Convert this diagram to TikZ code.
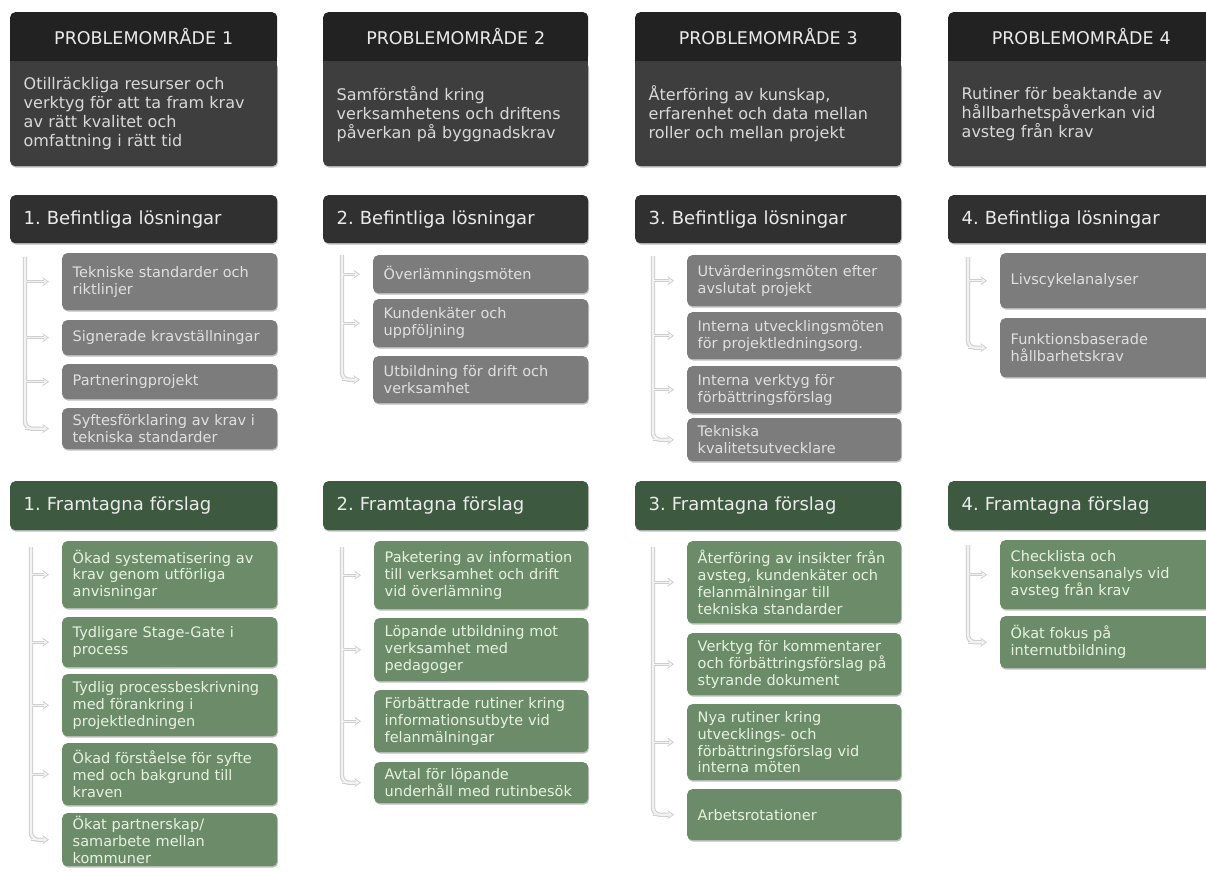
\documentclass[tikz,border=0pt]{standalone}
\usepackage{fontspec}
\setmainfont{DejaVu Sans}
\usetikzlibrary{arrows.meta,shadows}
\frenchspacing

\definecolor{headdark}{HTML}{222222}
\definecolor{bodydark}{HTML}{3E3E3E}
\definecolor{befhead}{HTML}{303030}
\definecolor{greyitem}{HTML}{7C7C7C}
\definecolor{framhead}{HTML}{3D5940}
\definecolor{greenitem}{HTML}{6C8C69}
\definecolor{greentext}{HTML}{E6F2E0}
\definecolor{connedge}{HTML}{CFCFCF}
\definecolor{connfill}{HTML}{F2F2F2}

\tikzset{
  softshadow/.style={drop shadow={shadow xshift=0.8pt,shadow yshift=-1.4pt,opacity=0.25,fill=black}},
  box/.style={anchor=north west, rounded corners=5pt, inner ysep=2pt, align=left,
    font=\fontsize{14.5}{16.8}\selectfont},
  probhead/.style={box, fill=headdark, text=white!92!black, align=center,
    font=\fontsize{17.5}{20}\selectfont},
  probbody/.style={box, softshadow, fill=bodydark, text=white!85!black,
    font=\fontsize{16}{19}\selectfont},
  befhd/.style={box, softshadow, fill=befhead, text=white!92!black,
    font=\fontsize{18}{21}\selectfont},
  framhd/.style={box, softshadow, fill=framhead, text=white!92!black,
    font=\fontsize{18}{21}\selectfont},
  befitem/.style={box, softshadow, fill=greyitem, text=white!88!black},
  framitem/.style={box, softshadow, fill=greenitem, text=greentext},
  % connectors: a pale line with a darker rim, drawn in two passes
  trunkrim/.style={draw=connedge, line width=4.4pt, rounded corners=7pt, shorten >=18pt},
  trunkcore/.style={draw=connfill, line width=2.2pt, rounded corners=7pt, shorten >=18pt},
  tiprim/.style={draw=connedge, line width=2.8pt, -{Stealth[length=6.5pt,width=9pt]}, shorten >=13pt},
  tipcore/.style={draw=connfill, line width=1.2pt, -{Stealth[length=4pt,width=5.5pt]}, shorten >=14.6pt},
}

% \cell{style}{inner xsep}{x1}{y1}{x2}{y2}{name}{text}
\newcommand\cell[8]{%
  \pgfmathsetmacro\cellW{#5-#3}%
  \pgfmathsetmacro\cellH{#6-#4}%
  \pgfmathsetmacro\cellT{#5-#3-2*#2-1}%
  \node[#1, inner xsep=#2pt, minimum width=\cellW pt, minimum height=\cellH pt,
        text width=\cellT pt] (#7) at (#3,#4) {#8};}

% problem area card: dark title band over a lighter body
\newcommand\probcard[6]{% name, x1, x2, title, body-name, body
  \cell{probbody}{13}{#2}{61}{#3}{166}{#5}{#6}
  \fill[bodydark] (#5.north west) rectangle ([yshift=-8pt]#5.north east);
  \cell{probhead}{0}{#2}{12}{#3}{61}{#1}{#4}
  \fill[headdark] ([yshift=8pt]#1.south west) rectangle (#1.south east);}

% tree connector: trunk from a start coordinate down to the last item,
% with an arrow into every listed item
\newcommand\tree[3]{% start coordinate, last item, all items
  \draw[trunkrim] (#1) |- (#2.west);
  \foreach \n in {#3} \draw[tiprim] (#1 |- \n.west) -- (\n.west);
  \draw[trunkcore] (#1) |- (#2.west);
  \foreach \n in {#3} \draw[tipcore] (#1 |- \n.west) -- (\n.west);}

\begin{document}
\begin{tikzpicture}[x=1pt,y=-1pt]
\useasboundingbox (0,0) rectangle (1206,872);
\clip (0,0) rectangle (1206,872);
\fill[white] (0,0) rectangle (1206,872);

% ---------- problem areas ----------
\probcard{ph1}{10}{277}{PROBLEMOMRÅDE 1}{pd1}{Otillräckliga resurser och\\verktyg för att ta fram krav\\av rätt kvalitet och\\omfattning i rätt tid}
\probcard{ph2}{323}{588}{PROBLEMOMRÅDE 2}{pd2}{Samförstånd kring\\verksamhetens och driftens\\påverkan på byggnadskrav}
\probcard{ph3}{635}{901}{PROBLEMOMRÅDE 3}{pd3}{Återföring av kunskap,\\erfarenhet och data mellan\\roller och mellan projekt}
\probcard{ph4}{948}{1214}{PROBLEMOMRÅDE 4}{pd4}{Rutiner för beaktande av\\hållbarhetspåverkan vid\\avsteg från krav}

% ---------- existing solutions ----------
\cell{befhd}{13}{10}{195}{277}{243}{b1}{1. Befintliga lösningar}
\cell{befhd}{13}{323}{195}{588}{243}{b2}{2. Befintliga lösningar}
\cell{befhd}{13}{635}{195}{901}{243}{b3}{3. Befintliga lösningar}
\cell{befhd}{13}{948}{195}{1214}{243}{b4}{4. Befintliga lösningar}

\cell{befitem}{10}{62}{253}{277}{310}{bi11}{Tekniske standarder och\\riktlinjer}
\cell{befitem}{10}{62}{320}{277}{355}{bi12}{Signerade kravställningar}
\cell{befitem}{10}{62}{364}{277}{399}{bi13}{Partneringprojekt}
\cell{befitem}{10}{62}{408}{277}{449}{bi14}{Syftesförklaring av krav i\\tekniska standarder}

\cell{befitem}{10}{373}{255}{588}{293}{bi21}{Överlämningsmöten}
\cell{befitem}{10}{373}{299}{588}{347}{bi22}{Kundenkäter och\\uppföljning}
\cell{befitem}{10}{373}{356}{588}{403}{bi23}{Utbildning för drift och\\verksamhet}

\cell{befitem}{10}{687}{255}{901}{306}{bi31}{Utvärderingsmöten efter\\avslutat projekt}
\cell{befitem}{10}{687}{312}{901}{359}{bi32}{Interna utvecklingsmöten\\för projektledningsorg.}
\cell{befitem}{10}{687}{366}{901}{413}{bi33}{Interna verktyg för\\förbättringsförslag}
\cell{befitem}{10}{687}{418}{901}{461}{bi34}{Tekniska\\kvalitetsutvecklare}

\cell{befitem}{10}{1000}{253}{1214}{308}{bi41}{Livscykelanalyser}
\cell{befitem}{10}{1000}{318}{1214}{377}{bi42}{Funktionsbaserade\\hållbarhetskrav}

% ---------- proposals ----------
\cell{framhd}{13}{10}{481}{277}{530}{g1}{1. Framtagna förslag}
\cell{framhd}{13}{323}{481}{588}{530}{g2}{2. Framtagna förslag}
\cell{framhd}{13}{635}{481}{901}{530}{g3}{3. Framtagna förslag}
\cell{framhd}{13}{948}{481}{1214}{530}{g4}{4. Framtagna förslag}

\cell{framitem}{10}{62}{541}{277}{608}{gi11}{Ökad systematisering av\\krav genom utförliga\\anvisningar}
\cell{framitem}{10}{62}{617}{277}{667}{gi12}{Tydligare Stage-Gate i\\process}
\cell{framitem}{10}{62}{674}{277}{736}{gi13}{Tydlig processbeskrivning\\med förankring i\\projektledningen}
\cell{framitem}{10}{62}{743}{277}{805}{gi14}{Ökad förståelse för syfte\\med och bakgrund till\\kraven}
\cell{framitem}{10}{62}{813}{277}{866}{gi15}{Ökat partnerskap/\\samarbete mellan\\kommuner}

\cell{framitem}{10}{374}{541}{588}{609}{gi21}{Paketering av information\\till verksamhet och drift\\vid överlämning}
\cell{framitem}{10}{374}{618}{588}{681}{gi22}{Löpande utbildning mot\\verksamhet med\\pedagoger}
\cell{framitem}{10}{374}{690}{588}{752}{gi23}{Förbättrade rutiner kring\\informationsutbyte vid\\felanmälningar}
\cell{framitem}{10}{374}{762}{588}{803}{gi24}{Avtal för löpande\\underhåll med rutinbesök}

\cell{framitem}{10}{687}{541}{901}{623}{gi31}{Återföring av insikter från\\avsteg, kundenkäter och\\felanmälningar till\\tekniska standarder}
\cell{framitem}{10}{687}{633}{901}{695}{gi32}{Verktyg för kommentarer\\och förbättringsförslag på\\styrande dokument}
\cell{framitem}{10}{687}{704}{901}{780}{gi33}{Nya rutiner kring\\utvecklings- och\\förbättringsförslag vid\\interna möten}
\cell{framitem}{10}{687}{789}{901}{840}{gi34}{Arbetsrotationer}

\cell{framitem}{10}{1000}{540}{1214}{609}{gi41}{Checklista och\\konsekvensanalys vid\\avsteg från krav}
\cell{framitem}{10}{1000}{616}{1214}{668}{gi42}{Ökat fokus på\\internutbildning}

% ---------- connectors ----------
\coordinate (tb1) at (25,257);
\coordinate (tb2) at (342,255);
\coordinate (tb3) at (653,256);
\coordinate (tb4) at (968,257);
\coordinate (tg1) at (31,547);
\coordinate (tg2) at (342,547);
\coordinate (tg3) at (653,547);
\coordinate (tg4) at (968,545);

\tree{tb1}{bi14}{bi11,bi12,bi13,bi14}
\tree{tb2}{bi23}{bi21,bi22,bi23}
\tree{tb3}{bi34}{bi31,bi32,bi33,bi34}
\tree{tb4}{bi42}{bi41,bi42}
\tree{tg1}{gi15}{gi11,gi12,gi13,gi14,gi15}
\tree{tg2}{gi24}{gi21,gi22,gi23,gi24}
\tree{tg3}{gi34}{gi31,gi32,gi33,gi34}
\tree{tg4}{gi42}{gi41,gi42}
\end{tikzpicture}
\end{document}
